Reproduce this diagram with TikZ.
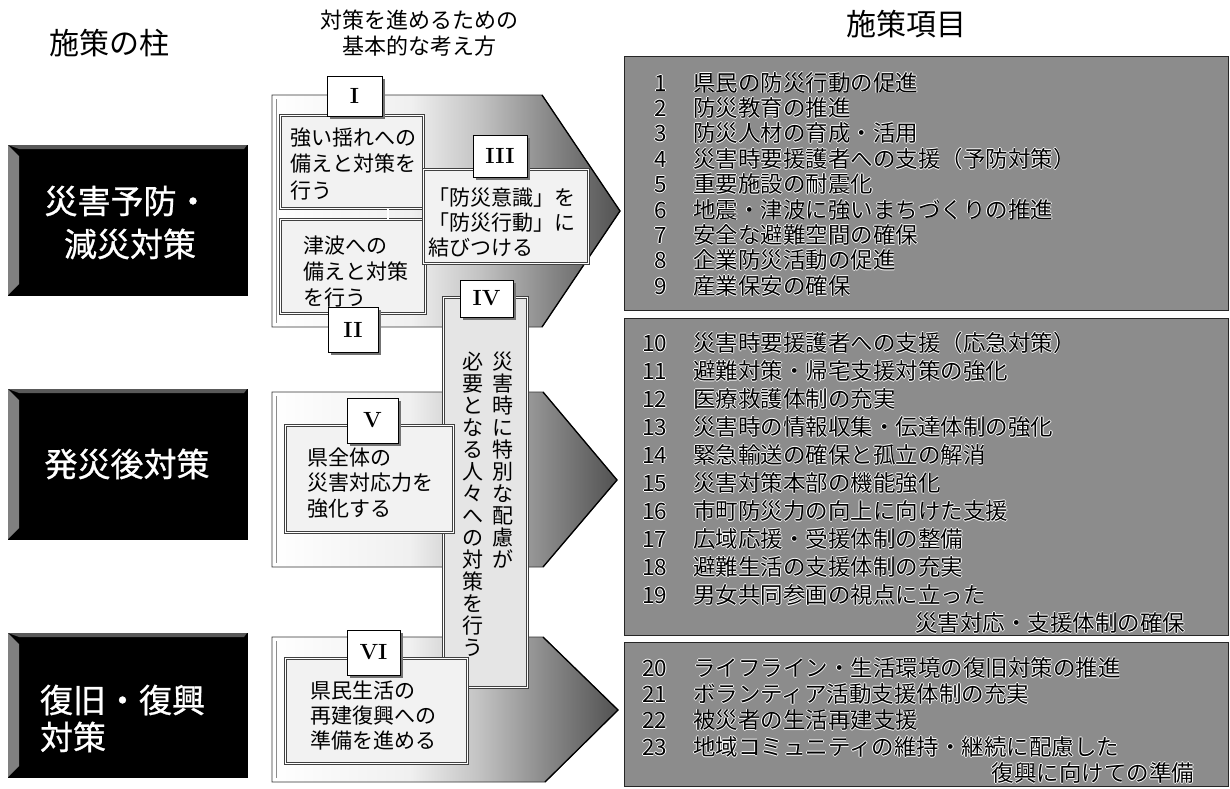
\documentclass[tikz,border=0pt]{standalone}
\usepackage{fontspec}
\newfontfamily\jp{Noto Sans CJK JP}
\newfontfamily\jpb{Noto Sans CJK JP}[FakeBold=0.8]
\usetikzlibrary{shadows}
\pgfdeclarehorizontalshading{pentshade}{100bp}{color(0bp)=(white); color(25bp)=(white); color(45bp)=(black!6); color(55bp)=(black!24); color(65bp)=(black!47); color(75bp)=(black!68); color(100bp)=(black!68)}
\newcommand\halo[1]{\leavevmode\rlap{\color{white}\kern-0.9pt #1}\rlap{\color{white}\kern0.9pt #1}\rlap{\color{white}\raisebox{0.9pt}{#1}}\rlap{\color{white}\raisebox{-0.9pt}{#1}}#1}
\begin{document}
\begin{tikzpicture}[x=1pt,y=-1pt,
  jpt/.style={inner sep=0pt, outer sep=0pt},
  ttl/.style={jpt, font=\jp\fontsize{30}{30}\selectfont},
  ttls/.style={jpt, font=\jp\fontsize{22}{22}\selectfont},
  pillar/.style={fill=black, draw=black, minimum width=239pt, minimum height=150pt, anchor=north west, inner sep=0pt},
  ptxt/.style={jpt, text=white, font=\jpb\fontsize{33}{33}\selectfont},
  pent/.style={shade, shading=pentshade, draw=black!80, line width=0.8pt},
  slant/.style={draw=black, line width=1.3pt, line join=miter},
  ibox/.style={draw=black!75, line width=0.6pt, double=white, double distance=1.4pt, fill=white!95!black, anchor=north west, inner sep=0pt},
  mtxt/.style={jpt, font=\jp\fontsize{21}{21}\selectfont},
  lbl/.style={draw=black, line width=1pt, fill=white, inner sep=0pt, font=\rmfamily\bfseries\fontsize{22}{22}\selectfont,
     drop shadow={shadow xshift=3pt, shadow yshift=-3pt, fill=black!55, opacity=1}},
  rbox/.style={fill=black!45, draw=black!85, line width=0.6pt, anchor=north west, inner sep=0pt},
  rtxt/.style={jpt, font=\jp\fontsize{22.5}{22.5}\selectfont}
]
\useasboundingbox (0,0) rectangle (1230,788);
\fill[white] (0,0) rectangle (1230,788);

% ---------- titles
\node[ttl, anchor=base] (t1) at (109,54.4) {施策の柱};
\node[ttls, anchor=base] (t2a) at (419,28.4) {対策を進めるための};
\node[ttls, anchor=base] (t2b) at (419,54.4) {基本的な考え方};
\node[ttl, anchor=base] (t3) at (906,35.4) {施策項目};

% ---------- left pillars
\node[pillar] (P1) at (8,145) {};
\node[pillar, minimum height=150pt] (P2) at (8,389) {};
\node[pillar, minimum height=144pt] (P3) at (8,633) {};
\foreach \p/\t/\b in {P1/145/295, P2/389/539, P3/633/777}{
  \fill[black!50] (8,\t) -- (19,\t+11) -- (19,\b-11) -- (8,\b) -- cycle;
  \fill[black!65] (8,\t) -- (247,\t) -- (244,\t+4) -- (19,\t+4) -- cycle;
}
\node[ptxt, anchor=base] (p1a) at (127,213.5) {災害予防・};
\node[ptxt, anchor=base] (p1b) at (130,256.5) {減災対策};
\node[ptxt, anchor=base] (p2a) at (127,476.5) {発災後対策};
\node[ptxt, anchor=base west] (p3a) at (40,712.5) {復旧・復興};
\node[ptxt, anchor=base west] (p3b) at (40,749.5) {対策};

% ---------- middle arrows
\path[pent] (272,95) -- (542,95) -- (620,211) -- (542,327) -- (272,327) -- cycle;
\path[pent] (272,392) -- (543,392) -- (617,480) -- (543,567) -- (272,567) -- cycle;
\path[pent] (272,637) -- (543,637) -- (618,710) -- (545,782) -- (272,782) -- cycle;
\draw[slant] (542,95) -- (620,211) -- (542,327);
\draw[slant] (543,392) -- (617,480) -- (543,567);
\draw[slant] (543,637) -- (618,710) -- (545,782);
\draw[black!45, line width=0.5pt] (276,99) -- (276,323);
\draw[black!45, line width=0.5pt] (276,396) -- (276,563);
\draw[black!45, line width=0.5pt] (276,641) -- (276,778);

% IV vertical box
\node[ibox, fill=white!90!black, minimum width=84pt, minimum height=390pt] (BIV) at (443,297) {};

% inner boxes
\node[ibox, minimum width=143pt, minimum height=93pt] (BI) at (280,115) {};
\node[ibox, minimum width=145pt, minimum height=94pt] (BII) at (280,219) {};
\node[ibox, minimum width=165pt, minimum height=94pt] (BIII) at (423,169) {};
\node[ibox, minimum width=168pt, minimum height=107pt] (BV) at (285,425) {};
\node[ibox, minimum width=182pt, minimum height=105pt] (BVI) at (285,658) {};
\draw[black!60, line width=0.6pt, double=white, double distance=1.2pt] (BI.south -| 388,0) -- (BII.north -| 388,0);

% labels
\node[lbl, minimum width=55pt, minimum height=40pt] (LI) at (354.5,96) {I};
\node[lbl, minimum width=50pt, minimum height=45pt] (LII) at (353,329.5) {II};
\node[lbl, minimum width=54pt, minimum height=42pt] (LIII) at (500,156) {III};
\node[lbl, minimum width=53pt, minimum height=37pt] (LIV) at (486.5,298.5) {IV};
\node[lbl, minimum width=51pt, minimum height=45pt] (LV) at (372.5,420.5) {V};
\node[lbl, minimum width=53pt, minimum height=45pt] (LVI) at (373.5,652.5) {VI};

% middle texts
\foreach \t [count=\i from 0] in {強い揺れへの,備えと対策を,行う}
  \node[mtxt, anchor=base west] (tI\i) at (290,145+26.5*\i) {\t};
\foreach \t [count=\i from 0] in {津波への,備えと対策,を行う}
  \node[mtxt, anchor=base west] (tII\i) at (303,253+26*\i) {\t};
\foreach \t [count=\i from 0] in {「防災意識」を,「防災行動」に,結びつける}
  \node[mtxt, anchor=base west] (tIII\i) at (428,205+25*\i) {\t};
\foreach \t [count=\i from 0] in {県全体の,災害対応力を,強化する}
  \node[mtxt, anchor=base west] (tV\i) at (307,465+25.5*\i) {\t};
\foreach \t [count=\i from 0] in {県民生活の,再建復興への,準備を進める}
  \node[mtxt, anchor=base west] (tVI\i) at (310,698+25*\i) {\t};
% vertical text
\foreach \c [count=\i from 0] in {災,害,時,に,特,別,な,配,慮,が}
  \node[mtxt, anchor=base] (vr\i) at (503,369+22*\i) {\c};
\foreach \c [count=\i from 0] in {必,要,と,な,る,人,々,へ,の,対,策,を,行,う}
  \node[mtxt, anchor=base] (vl\i) at (473,369+22*\i) {\c};

% ---------- right boxes
\node[rbox, minimum width=604pt, minimum height=254pt] (R1) at (624,56) {};
\node[rbox, minimum width=604pt, minimum height=317pt] (R2) at (624,318) {};
\node[rbox, minimum width=604pt, minimum height=144pt] (R3) at (624,642) {};

\foreach \n/\t [count=\i from 0] in {1/県民の防災行動の促進,2/防災教育の推進,3/防災人材の育成・活用,4/災害時要援護者への支援（予防対策）,5/重要施設の耐震化,6/地震・津波に強いまちづくりの推進,7/安全な避難空間の確保,8/企業防災活動の促進,9/産業保安の確保}{
  \node[rtxt, anchor=base east] (rn\n) at (667,91+25.4*\i) {\halo{\n}};
  \node[rtxt, anchor=base west] (rt\n) at (693,91+25.4*\i) {\halo{\t}};
}
\foreach \n/\t [count=\i from 0] in {10/災害時要援護者への支援（応急対策）,11/避難対策・帰宅支援対策の強化,12/医療救護体制の充実,13/災害時の情報収集・伝達体制の強化,14/緊急輸送の確保と孤立の解消,15/災害対策本部の機能強化,16/市町防災力の向上に向けた支援,17/広域応援・受援体制の整備,18/避難生活の支援体制の充実,19/男女共同参画の視点に立った}{
  \node[rtxt, anchor=base east] (rn\n) at (667,351.5+28*\i) {\halo{\n}};
  \node[rtxt, anchor=base west] (rt\n) at (693,351.5+28*\i) {\halo{\t}};
}
\node[rtxt, anchor=base east] (rt19b) at (1185,631.5) {\halo{災害対応・支援体制の確保}};
\foreach \n/\t [count=\i from 0] in {20/ライフライン・生活環境の復旧対策の推進,21/ボランティア活動支援体制の充実,22/被災者の生活再建支援,23/地域コミュニティの維持・継続に配慮した}{
  \node[rtxt, anchor=base east] (rn\n) at (667,676.5+26.2*\i) {\halo{\n}};
  \node[rtxt, anchor=base west] (rt\n) at (693,676.5+26.2*\i) {\halo{\t}};
}
\node[rtxt, anchor=base east] (rt23b) at (1194,781.3) {\halo{復興に向けての準備}};
\end{tikzpicture}
\end{document}
